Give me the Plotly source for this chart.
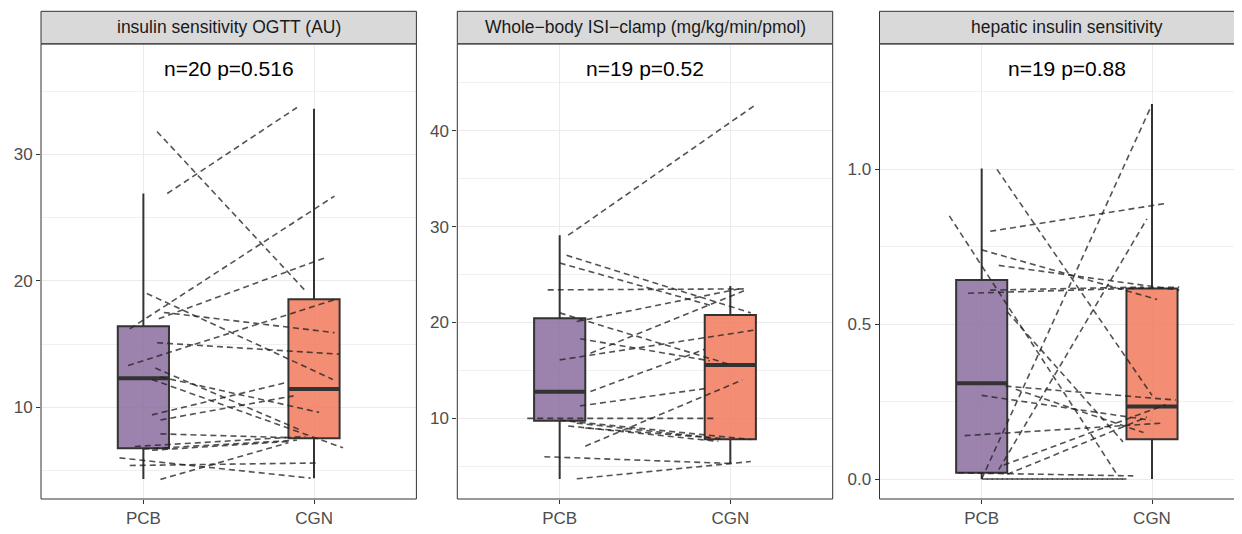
import plotly.graph_objects as go

# ---------------- data ----------------
categories = ["PCB", "CGN"]
panel_titles = ["insulin sensitivity OGTT (AU)",
                "Whole\u2212body ISI\u2212clamp (mg/kg/min/pmol)",
                "hepatic insulin sensitivity"]
panel_notes = ["n=20 p=0.516", "n=19 p=0.52", "n=19 p=0.88"]

# panel 1 : paired values (PCB -> CGN) and horizontal jitter
pcb1_y = [26.9, 31.8, 16.2, 17.0, 19.0, 17.5, 15.1, 13.3, 13.1, 12.4, 12.2, 9.4, 9.0, 7.9, 6.9, 6.7, 6.6, 6.0, 5.4, 4.3]
cgn1_y = [33.7, 19.2, 26.7, 21.8, 12.2, 15.9, 14.2, 18.5, 8.2, 9.6, 6.8, 12.0, 10.9, 7.6, 7.7, 7.4, 7.3, 4.4, 5.6, 7.2]
pcb1_jit = [0.14, 0.08, -0.08, 0.09, 0.02, 0.12, 0.08, -0.09, 0.07, 0.10, 0.05, 0.05, 0.10, 0.10, -0.05, 0.0, 0.05, -0.14, -0.08, 0.10]
cgn1_jit = [-0.10, -0.05, 0.12, 0.06, 0.11, 0.12, 0.15, 0.12, -0.08, 0.03, 0.17, -0.15, -0.12, -0.15, -0.05, -0.10, -0.15, -0.02, 0.03, -0.15]

# panel 2
pcb2_y = [29.1, 27.0, 26.2, 23.4, 21.0, 20.1, 18.3, 16.8, 16.1, 12.8, 11.3, 10.0, 9.8, 9.5, 9.2, 9.0, 7.1, 6.0, 3.7]
cgn2_y = [42.6, 21.0, 21.8, 23.5, 15.6, 23.5, 16.0, 23.3, 19.2, 17.2, 13.1, 10.0, 7.8, 8.0, 7.6, 7.9, 14.0, 5.3, 5.5]
pcb2_jit = [0.05, 0.04, 0.0, -0.07, 0.0, 0.10, 0.12, 0.18, 0.0, 0.18, 0.12, -0.19, 0.0, 0.10, 0.05, 0.15, 0.15, -0.09, 0.10]
cgn2_jit = [0.14, 0.12, -0.12, 0.08, 0.0, 0.05, -0.12, 0.08, 0.14, -0.15, -0.15, -0.10, 0.12, -0.12, -0.07, -0.05, 0.07, 0.0, 0.12]

# panel 3
pcb3_y = [1.00, 0.85, 0.00, 0.03, 0.80, 0.74, 0.69, 0.60, 0.61, 0.54, 0.30, 0.27, 0.29, 0.14, 0.045, 0.015, 0.02, 0.00, 0.00]
cgn3_y = [0.27, 0.01, 1.21, 0.84, 0.89, 0.58, 0.61, 0.62, 0.62, 0.12, 0.255, 0.19, 0.15, 0.18, 0.24, 0.20, 0.01, 0.00, 0.00]
pcb3_jit = [0.09, -0.19, 0.0, 0.10, 0.05, 0.0, 0.10, -0.08, 0.05, 0.15, 0.14, 0.0, 0.2, -0.1, 0.13, 0.15, -0.14, 0.0, 0.03]
cgn3_jit = [0.0, -0.2, 0.0, -0.03, 0.08, 0.03, 0.16, 0.16, -0.05, -0.17, 0.14, -0.01, -0.05, 0.05, 0.08, -0.03, -0.11, -0.15, -0.17]

# box statistics (lower whisker, q1, median, q3, upper whisker)
box1_pcb = [4.33, 6.76, 12.3, 16.4, 26.9]
box1_cgn = [4.39, 7.55, 11.45, 18.54, 33.6]
box2_pcb = [3.67, 9.76, 12.78, 20.43, 29.1]
box2_cgn = [5.31, 7.81, 15.56, 20.78, 23.8]
box3_pcb = [0.0, 0.020, 0.309, 0.643, 1.003]
box3_cgn = [0.0, 0.128, 0.234, 0.615, 1.211]

y_ranges = [[2.75, 38.72], [1.59, 49.04], [-0.0646, 1.405]]
y_dticks = [10, 10, 0.5]
y_formats = ["d", "d", ".1f"]

# ---------------- layout geometry (page pixels) ----------------
OFF = 8                      # default page body margin
PAGE_W, PAGE_H = 1242, 534
W, H = PAGE_W - OFF, PAGE_H - OFF
FONT = "Liberation Sans, Arial, Helvetica, sans-serif"
panel_px = [(41.0, 416.4), (457.3, 832.7), (879.5, 1242.0)]
x_ranges = [[-0.6, 1.6], [-0.6, 1.6], [-0.6, (1242 - 981.7) / 170.3]]
plot_top, plot_bot = 44.0, 499.0
strip_top, strip_bot = 11.3, 43.7

def px(x):
    return (x - OFF) / W

def py(y):
    return (H - (y - OFF)) / H

fill_cols = ["rgba(134,104,156,0.82)", "rgba(240,116,86,0.82)"]
edge = "#333333"

panels = [
    (pcb1_y, cgn1_y, pcb1_jit, cgn1_jit, box1_pcb, box1_cgn),
    (pcb2_y, cgn2_y, pcb2_jit, cgn2_jit, box2_pcb, box2_cgn),
    (pcb3_y, cgn3_y, pcb3_jit, cgn3_jit, box3_pcb, box3_cgn),
]

fig = go.Figure()
shapes = []
annotations = []
layout_axes = {}

for i, (py_, cy_, pj, cj, bp, bc) in enumerate(panels):
    xa = "x" if i == 0 else f"x{i+1}"
    ya = "y" if i == 0 else f"y{i+1}"
    for j, (st, col) in enumerate([(bp, fill_cols[0]), (bc, fill_cols[1])]):
        fig.add_trace(go.Box(
            x=[j], lowerfence=[st[0]], q1=[st[1]], median=[st[2]], q3=[st[3]], upperfence=[st[4]],
            width=0.3, whiskerwidth=0, fillcolor=col, line=dict(color=edge, width=2),
            boxpoints=False, xaxis=xa, yaxis=ya, showlegend=False, hoverinfo="skip"))
        fig.add_trace(go.Scatter(
            x=[j - 0.15, j + 0.15], y=[st[2], st[2]], mode="lines",
            line=dict(color=edge, width=4), xaxis=xa, yaxis=ya,
            showlegend=False, hoverinfo="skip"))
    lx, ly = [], []
    for k in range(len(py_)):
        lx += [0 + pj[k], 1 + cj[k], None]
        ly += [py_[k], cy_[k], None]
    fig.add_trace(go.Scatter(
        x=lx, y=ly, mode="lines", connectgaps=False,
        line=dict(color="rgba(35,35,35,0.78)", width=1.6, dash="6px,4px"),
        xaxis=xa, yaxis=ya, showlegend=False, hoverinfo="skip"))

    x0p, x1p = panel_px[i]
    xkey = "xaxis" if i == 0 else f"xaxis{i+1}"
    ykey = "yaxis" if i == 0 else f"yaxis{i+1}"
    layout_axes[xkey] = dict(
        domain=[px(x0p), min(px(x1p), 1.0)], range=x_ranges[i],
        tickvals=[0, 1], ticktext=categories, anchor=ya,
        showgrid=True, gridcolor="#EBEBEB", gridwidth=1.2, zeroline=False,
        ticks="outside", ticklen=4, tickwidth=1, tickcolor=edge,
        tickfont=dict(family=FONT, size=17, color="#4D4D4D"),
        showline=False, fixedrange=True)
    layout_axes[ykey] = dict(
        domain=[py(plot_bot), py(plot_top)], range=y_ranges[i], anchor=xa,
        dtick=y_dticks[i], tick0=0, tickformat=y_formats[i],
        showgrid=True, gridcolor="#EBEBEB", gridwidth=1.2, zeroline=False,
        minor=dict(dtick=y_dticks[i] / 2, tick0=0, showgrid=True, gridcolor="#F0F0F0", gridwidth=0.6, ticks=""),
        ticks="outside", ticklen=4, tickwidth=1, tickcolor=edge,
        tickfont=dict(family=FONT, size=17, color="#4D4D4D"),
        showline=False, fixedrange=True)

    right = px(x1p) if i < 2 else 1.01
    shapes.append(dict(type="rect", xref="paper", yref="paper",
                       x0=px(x0p), x1=right, y0=py(plot_bot), y1=py(plot_top),
                       line=dict(color=edge, width=1), fillcolor="rgba(0,0,0,0)", layer="above"))
    shapes.append(dict(type="rect", xref="paper", yref="paper",
                       x0=px(x0p), x1=right, y0=py(strip_bot), y1=py(strip_top),
                       line=dict(color=edge, width=1), fillcolor="#D9D9D9", layer="above"))
    cx = px(x0p + 375.4 / 2)
    annotations.append(dict(text=panel_titles[i], xref="paper", yref="paper",
                            x=cx, y=py((strip_top + strip_bot) / 2), showarrow=False,
                            xanchor="center", yanchor="middle",
                            font=dict(family=FONT, size=17.5, color="#1A1A1A")))
    annotations.append(dict(text=panel_notes[i], xref=xa, yref=f"{ya} domain",
                            x=0.5, y=(plot_bot - 68) / (plot_bot - plot_top), showarrow=False,
                            xanchor="center", yanchor="middle",
                            font=dict(family=FONT, size=21, color="black")))

fig.update_layout(
    width=W, height=H, margin=dict(l=0, r=0, t=0, b=0),
    paper_bgcolor="white", plot_bgcolor="white",
    showlegend=False, shapes=shapes, annotations=annotations,
    boxmode="overlay",
    **layout_axes)

fig.write_html("out.html")
